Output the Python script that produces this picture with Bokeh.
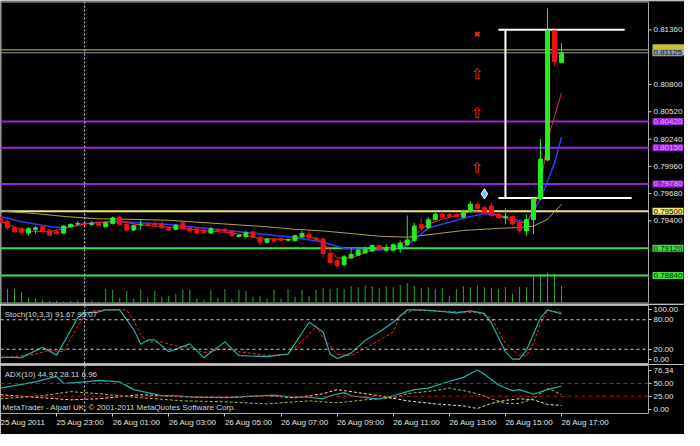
from bokeh.plotting import figure
from bokeh.layouts import column
from bokeh.models import (Range1d, LinearAxis, FixedTicker, PrintfTickFormatter,
                          Span, Label, ColumnDataSource)
from bokeh.core.properties import value
from bokeh.embed import file_html
from bokeh.resources import INLINE

# ------------------------------------------------------------------ data
# M15 bars, bar 0 = 25 Aug 2011 21:00
bar = list(range(81))
open_ = [0.79427, 0.79397, 0.79330, 0.79320, 0.79275, 0.79314, 0.79340, 0.79304, 0.79288, 0.79275,
         0.79340, 0.79370, 0.79374, 0.79364, 0.79374, 0.79340, 0.79374, 0.79440, 0.79364, 0.79307,
         0.79362, 0.79374, 0.79374, 0.79374, 0.79330, 0.79314, 0.79380, 0.79330, 0.79320, 0.79307,
         0.79275, 0.79314, 0.79314, 0.79297, 0.79241, 0.79241, 0.79288, 0.79231, 0.79181, 0.79215,
         0.79221, 0.79203, 0.79198, 0.79238, 0.79264, 0.79225, 0.79215, 0.79066, 0.78993, 0.78950,
         0.79022, 0.79049, 0.79072, 0.79092, 0.79148, 0.79099, 0.79099, 0.79116, 0.79158, 0.79198,
         0.79364, 0.79330, 0.79413, 0.79469, 0.79463, 0.79463, 0.79439, 0.79496, 0.79568, 0.79536,
         0.79553, 0.79469, 0.79433, 0.79446, 0.79380, 0.79297, 0.79413, 0.79628, 0.80025, 0.81350,
         0.81025]
high = [0.79446, 0.79417, 0.79347, 0.79337, 0.79337, 0.79347, 0.79354, 0.79317, 0.79314, 0.79357,
        0.79377, 0.79397, 0.79387, 0.79397, 0.79382, 0.79397, 0.79446, 0.79453, 0.79372, 0.79362,
        0.79421, 0.79382, 0.79397, 0.79397, 0.79342, 0.79367, 0.79392, 0.79342, 0.79332, 0.79317,
        0.79340, 0.79322, 0.79322, 0.79307, 0.79264, 0.79297, 0.79297, 0.79243, 0.79223, 0.79223,
        0.79233, 0.79223, 0.79258, 0.79297, 0.79314, 0.79233, 0.79223, 0.79079, 0.79005, 0.79049,
        0.79126, 0.79109, 0.79139, 0.79158, 0.79158, 0.79165, 0.79172, 0.79198, 0.79456, 0.79380,
        0.79430, 0.79436, 0.79513, 0.79496, 0.79481, 0.79486, 0.79506, 0.79602, 0.79595, 0.79551,
        0.79585, 0.79481, 0.79529, 0.79456, 0.79392, 0.79463, 0.79628, 0.80240, 0.81581, 0.81353,
        0.81224]
low = [0.79367, 0.79307, 0.79278, 0.79248, 0.79258, 0.79268, 0.79280, 0.79248, 0.79258, 0.79268,
       0.79332, 0.79347, 0.79352, 0.79352, 0.79347, 0.79332, 0.79367, 0.79354, 0.79297, 0.79297,
       0.79307, 0.79342, 0.79347, 0.79322, 0.79297, 0.79302, 0.79312, 0.79292, 0.79263, 0.79273,
       0.79268, 0.79288, 0.79283, 0.79238, 0.79231, 0.79221, 0.79223, 0.79148, 0.79173, 0.79175,
       0.79193, 0.79188, 0.79188, 0.79228, 0.79218, 0.79201, 0.79019, 0.78960, 0.78910, 0.78940,
       0.79009, 0.79039, 0.79066, 0.79084, 0.79099, 0.79082, 0.79089, 0.79072, 0.79148, 0.79188,
       0.79304, 0.79322, 0.79407, 0.79427, 0.79432, 0.79432, 0.79432, 0.79486, 0.79516, 0.79481,
       0.79441, 0.79422, 0.79364, 0.79357, 0.79280, 0.79248, 0.79268, 0.79615, 0.80012, 0.80986,
       0.81020]
close = [0.79387, 0.79330, 0.79290, 0.79280, 0.79320, 0.79330, 0.79297, 0.79254, 0.79271, 0.79347,
         0.79364, 0.79374, 0.79364, 0.79377, 0.79354, 0.79380, 0.79430, 0.79364, 0.79307, 0.79354,
         0.79367, 0.79354, 0.79357, 0.79330, 0.79307, 0.79357, 0.79320, 0.79297, 0.79275, 0.79280,
         0.79320, 0.79297, 0.79294, 0.79248, 0.79254, 0.79280, 0.79231, 0.79181, 0.79215, 0.79195,
         0.79201, 0.79208, 0.79248, 0.79271, 0.79225, 0.79208, 0.79066, 0.78973, 0.78940, 0.79032,
         0.79056, 0.79099, 0.79106, 0.79148, 0.79106, 0.79126, 0.79155, 0.79172, 0.79205, 0.79347,
         0.79324, 0.79413, 0.79469, 0.79439, 0.79443, 0.79443, 0.79496, 0.79572, 0.79529, 0.79489,
         0.79453, 0.79436, 0.79443, 0.79370, 0.79304, 0.79413, 0.79628, 0.80035, 0.81350, 0.81035,
         0.81125]
volume = [325, 375, 375, 300, 150, 125, 100, 75, 75, 50,
          75, 75, 150, 75, 50, 375, 350, 150, 325, 125,
          350, 150, 325, 175, 200, 250, 350, 350, 125, 100,
          350, 150, 375, 125, 350, 325, 175, 200, 125, 350,
          125, 375, 175, 350, 200, 350, 400, 375, 400, 375,
          450, 425, 475, 450, 400, 450, 425, 475, 525, 450,
          400, 425, 375, 400, 200, 375, 450, 425, 475, 425,
          400, 375, 425, 250, 425, 425, 700, 750, 800, 750,
          450]

# moving averages (bar, price)
ma_fast_bar = [0, 2, 4, 7, 10, 12, 17, 20, 24, 28, 33, 37, 41, 44, 46, 48, 50, 53, 56, 58,
               61, 63, 67, 70, 73, 75, 76, 77, 78, 79, 80]
ma_fast = [0.79397, 0.79337, 0.79297, 0.79288, 0.79337, 0.79372, 0.79397, 0.79357, 0.79337, 0.79307,
           0.79278, 0.79218, 0.79208, 0.79248, 0.79178, 0.79019, 0.79019, 0.79099, 0.79129, 0.79198,
           0.79367, 0.79417, 0.79496, 0.79486, 0.79397, 0.79377, 0.79516, 0.79744, 0.80231, 0.80469,
           0.80717]
ma_mid_bar = [0, 3, 7, 9, 12, 16, 24, 33, 42, 46, 49, 54, 58, 61, 66, 69, 72, 75, 77, 79, 80]
ma_mid = [0.79446, 0.79392, 0.79342, 0.79327, 0.79374, 0.79397, 0.79364, 0.79297, 0.79231, 0.79181,
          0.79119, 0.79099, 0.79148, 0.79327, 0.79427, 0.79476, 0.79446, 0.79382, 0.79625, 0.79993,
          0.80261]
ma_slow_bar = [0, 5, 9, 14, 20, 24, 28, 33, 38, 42, 46, 50, 54, 58, 61, 66, 71, 74, 76, 78, 80]
ma_slow = [0.79501, 0.79476, 0.79446, 0.79422, 0.79414, 0.79407, 0.79387, 0.79364, 0.79340, 0.79314,
           0.79297, 0.79271, 0.79243, 0.79233, 0.79258, 0.79302, 0.79324, 0.79332, 0.79347, 0.79417,
           0.79571]

# horizontal price levels with their price-scale boxes
level_price = [0.81155, 0.81125, 0.80420, 0.80150, 0.79780, 0.79500, 0.79120, 0.78840]
level_color = ["#c9c040", "#8b9bab", "#9a22d8", "#9a22d8", "#9a22d8", "#f0e878", "#3ee03e", "#3ee03e"]
level_width = [1, 1, 2, 2, 2, 2, 2, 2]
level_text = ["#1a1a00", "#0c1a28", "#dcb0f6", "#dcb0f6", "#dcb0f6", "#101000", "#062806", "#062806"]
level_label = ["\u2007" * 7, "0.81125", "0.80420", "0.80150", "0.79780", "0.79500", "0.79120", "0.78840"]

# drawn objects (white lines)
obj_x0 = [71, 71, 72]
obj_x1 = [89, 90, 72]
obj_y0 = [0.81360, 0.79635, 0.81360]
obj_y1 = [0.81360, 0.79635, 0.79635]

# signal arrows
cross_bar = [68]
cross_price = [0.81316]
arrow_bar = [68, 68, 68]
arrow_price = [0.80907, 0.80512, 0.79943]
diamond_bar = [69]
diamond_price = [0.79678]

price_ticks = [0.79400, 0.79680, 0.79960, 0.80240, 0.80520, 0.80800, 0.81360]

# Stochastic(10,3,3)
stoch_k_bar = [0, 3, 6, 8, 10, 11, 12, 14, 15, 17, 19, 20, 21, 22, 24, 27, 29, 32, 34, 38, 41, 44,
               46, 47, 48, 50, 52, 54, 56, 58, 60, 62, 65, 67, 69, 70, 72, 73, 74, 75, 77, 78, 80]
stoch_k = [4, 3, 24, 8, 58, 84, 94, 96, 100, 100, 60, 30, 39, 39, 15, 31, 3, 35, 7, 5, 10, 75,
           55, 10, 1, 12, 38, 55, 75, 100, 100, 98, 94, 98, 93, 73, 15, 0, 0, 18, 84, 100, 91.67]
stoch_d_bar = [0, 5, 7, 9, 11, 12, 13, 15, 18, 19, 20, 21, 23, 25, 27, 29, 32, 34, 38, 41, 44, 45,
               46, 48, 50, 53, 56, 57, 59, 64, 68, 70, 72, 74, 75, 76, 77, 78, 80]
stoch_d = [2, 10, 18, 15, 67, 87, 98, 100, 100, 78, 50, 35, 35, 27, 24, 13, 21, 15, 7, 10, 50, 67,
           44, 10, 7, 30, 55, 90, 99, 97, 94, 84, 32, 7, 7, 32, 73, 99, 95.07]
stoch_levels = [80, 20]
stoch_ticks = [0, 20, 80, 100]

# ADX(10)
adx_bar = [0, 5, 8, 9, 12, 14, 17, 19, 23, 25, 28, 33, 37, 39, 41, 44, 46, 47, 49, 50, 53, 54,
           56, 59, 61, 63, 66, 68, 69, 71, 73, 74, 76, 78, 80]
adx = [41, 53, 64, 50, 53, 56, 53, 38, 26, 26, 23, 23, 26, 27, 24, 23, 20, 26, 32, 26, 21, 20,
       26, 38, 41, 50, 62, 76.34, 68, 47, 36, 38, 29, 38, 44.97]
pdi_bar = [0, 6, 10, 14, 20, 26, 32, 38, 44, 48, 52, 56, 58, 62, 64, 66, 68, 70, 72, 74, 76, 78, 80]
pdi = [20, 26, 34, 30, 22, 16, 14, 10, 16, 12, 18, 22, 30, 36, 41, 36, 30, 20, 11, 11, 20, 41, 28.11]
mdi_bar = [0, 6, 10, 14, 20, 26, 32, 38, 42, 46, 48, 50, 54, 58, 62, 66, 68, 70, 72, 74, 76, 78, 80]
mdi = [28, 22, 18, 20, 28, 24, 22, 26, 22, 30, 38, 34, 26, 16, 10, 6, 1, 11, 17, 20, 18, 9, 6.96]
adx_levels = [50, 25]
adx_ticks = [0, 25, 50, 76.34]

# time axis
time_tick_bar = [0, 8, 16, 24, 32, 40, 48, 56, 64, 72, 80]
time_tick_label = ["25 Aug 2011", "25 Aug 23:00", "26 Aug 01:00", "26 Aug 03:00", "26 Aug 05:00",
                   "26 Aug 07:00", "26 Aug 09:00", "26 Aug 11:00", "26 Aug 13:00", "26 Aug 15:00",
                   "26 Aug 17:00"]
separator_bar = 12  # 26 Aug 00:00

# ------------------------------------------------------------------ style / geometry
FONT = "Liberation Sans"
FS = "8px"
BG = "#000000"
FRAME_W = 648          # chart area width (px)
SCALE_W = 36           # price scale width (px)
BORDER = 92.4          # bars visible in the chart area
PX = FRAME_W / BORDER  # px per bar
TXT = "#e4e4e4"
EDGE = "#a8a8a8"
UP = "#22ee22"
DN = "#f01212"
Y0, Y1 = 0.78553, 0.81651


def base_fig(frame_w, frame_h, x_end, y0, y1, top=1, bottom=1, right=0, outline=EDGE):
    p = figure(frame_width=frame_w, frame_height=frame_h, x_range=Range1d(0.0, x_end),
               y_range=Range1d(y0, y1), output_backend="svg", toolbar_location=None,
               background_fill_color=BG, border_fill_color=BG,
               x_axis_location=None, y_axis_location=None,
               min_border_left=0, min_border_right=right,
               min_border_top=top, min_border_bottom=bottom,
               outline_line_color=outline, outline_line_width=1)
    p.grid.visible = False
    return p


def separator(p):
    p.add_layout(Span(location=separator_bar, dimension="height", line_color="#e0e0e0",
                      line_dash="2 2", line_width=1))


def right_axis(p, ticks, fmt):
    ax = LinearAxis(ticker=FixedTicker(ticks=ticks), formatter=PrintfTickFormatter(format=fmt),
                    axis_line_color=None, major_tick_line_color="#d0d0d0",
                    major_tick_out=3, major_tick_in=0, minor_tick_line_color=None,
                    major_label_text_color=TXT, major_label_text_font=FONT,
                    major_label_text_font_size=FS, major_label_standoff=2)
    p.add_layout(ax, "right")
    return ax


# ------------------------------------------------------------------ main price window
# the frame spans chart + price scale, so the coloured level boxes can sit on the scale
p1 = base_fig(FRAME_W + SCALE_W, 302, BORDER * (FRAME_W + SCALE_W) / FRAME_W, Y0, Y1,
              outline=None)
separator(p1)

# chart border
p1.segment(x0=[0, 0, 0, BORDER], x1=[0, BORDER, BORDER, BORDER],
           y0=[Y0, Y1, Y0, Y0], y1=[Y1, Y1, Y0, Y1], line_color=EDGE,
           line_width=[2, 2, 2, 1])

# volumes (bottom of main window)
p1.extra_y_ranges = {"vol": Range1d(0, 7800)}
vsrc = ColumnDataSource(dict(x=bar, v=volume, z=[0] * len(bar)))
p1.segment(x0="x", x1="x", y0="z", y1="v", source=vsrc, y_range_name="vol",
           line_color="#2aa82a", line_width=1)

# price levels
p1.segment(x0=[0] * len(level_price), x1=[BORDER] * len(level_price),
           y0=level_price, y1=level_price, line_color=level_color, line_width=level_width)

# drawn objects
p1.segment(x0=obj_x0, x1=obj_x1, y0=obj_y0, y1=obj_y1, line_color="#ffffff", line_width=2)

# moving averages
p1.line(ma_slow_bar, ma_slow, line_color="#b4a24a", line_width=1)
p1.line(ma_mid_bar, ma_mid, line_color="#2a3cff", line_width=1.5)
p1.line(ma_fast_bar, ma_fast, line_color="#ff2424", line_width=1)

# candles
colors = [UP if c >= o else DN for o, c in zip(open_, close)]
csrc = ColumnDataSource(dict(x=bar, o=open_, h=high, l=low, c=close, col=colors,
                             top=[max(o, c) for o, c in zip(open_, close)],
                             bot=[min(o, c) for o, c in zip(open_, close)]))
p1.segment(x0="x", x1="x", y0="l", y1="h", source=csrc, line_color="col", line_width=1)
p1.vbar(x="x", top="top", bottom="bot", width=0.56, source=csrc, fill_color="col",
        line_color="col", line_width=1)

# signal objects
p1.scatter(cross_bar, cross_price, marker="x", size=6, line_color="#ff2020", line_width=2)
p1.text(arrow_bar, arrow_price, text=["\u21e7"] * len(arrow_bar), text_color="#ff2a2a",
        text_font=value("DejaVu Sans"), text_font_size="15px", text_align="center",
        text_baseline="middle")
p1.scatter(diamond_bar, diamond_price, marker="diamond", size=10, fill_color="#8ab8ff",
           line_color="#ffffff", line_width=1)

# price scale: tick marks + labels
n = len(price_ticks)
p1.segment(x0=[BORDER] * n, x1=[BORDER + 3 / PX] * n, y0=price_ticks, y1=price_ticks,
           line_color="#d0d0d0", line_width=1)
p1.text(x=[BORDER + 5 / PX] * n, y=price_ticks, text=["%.5f" % t for t in price_ticks],
        text_font=value(FONT), text_font_size=FS, text_color=TXT,
        text_baseline="middle", text_align="left")

# coloured level boxes on the price scale
m = len(level_price)
p1.text(x=[BORDER + 4 / PX] * m, y=level_price, text=level_label,
        text_font=value(FONT), text_font_size=FS, text_color=level_text,
        text_baseline="middle", text_align="left",
        background_fill_color=level_color, padding=1)

# ------------------------------------------------------------------ stochastic window
p2 = base_fig(FRAME_W, 58, BORDER, -9, 109, right=SCALE_W)
separator(p2)
right_axis(p2, stoch_ticks, "%.2f")
for lv in stoch_levels:
    p2.add_layout(Span(location=lv, dimension="width", line_color="#d0d0d0",
                       line_dash="3 3", line_width=1))
p2.line(stoch_d_bar, stoch_d, line_color="#ff2a2a", line_dash="3 2", line_width=1)
p2.line(stoch_k_bar, stoch_k, line_color="#20b2aa", line_width=1.2)
p2.add_layout(Label(x=0.6, y=90, text="Stoch(10,3,3) 91.67 95.07", text_font=FONT,
                    text_font_size=FS, text_color="#d8d8d8", text_baseline="middle"))

# ------------------------------------------------------------------ ADX window
p3 = base_fig(FRAME_W, 48, BORDER, -8.8, 85.2, top=1, bottom=17, right=SCALE_W)
separator(p3)
right_axis(p3, adx_ticks, "%.2f")
for lv in adx_levels:
    p3.add_layout(Span(location=lv, dimension="width", line_color="#c01414",
                       line_dash="4 3", line_width=1))
p3.line(mdi_bar, mdi, line_color="#f5deb3", line_dash="3 2", line_width=1)
p3.line(pdi_bar, pdi, line_color="#9acd32", line_dash="3 2", line_width=1)
p3.line(adx_bar, adx, line_color="#20b2aa", line_width=1.2)
p3.add_layout(Label(x=0.6, y=68, text="ADX(10) 44.97 28.11 6.96", text_font=FONT,
                    text_font_size=FS, text_color="#d8d8d8", text_baseline="middle"))
p3.add_layout(Label(x=0.3, y=2.5,
                    text="MetaTrader - Alpari UK, \u00a9 2001-2011 MetaQuotes Software Corp.",
                    text_font=FONT, text_font_size=FS, text_color="#d8d8d8",
                    text_baseline="middle"))

xax = LinearAxis(ticker=FixedTicker(ticks=time_tick_bar),
                 major_label_overrides={b: s for b, s in zip(time_tick_bar, time_tick_label)},
                 axis_line_color=None, major_tick_line_color="#d0d0d0",
                 major_tick_out=3, major_tick_in=0, minor_tick_line_color=None,
                 major_label_text_color=TXT, major_label_text_font=FONT,
                 major_label_text_font_size=FS, major_label_orientation=-1e-4,
                 major_label_standoff=6)
p3.add_layout(xax, "below")

layout = column(p1, p2, p3, spacing=0)
open("out.html", "w").write(file_html(layout, INLINE))
